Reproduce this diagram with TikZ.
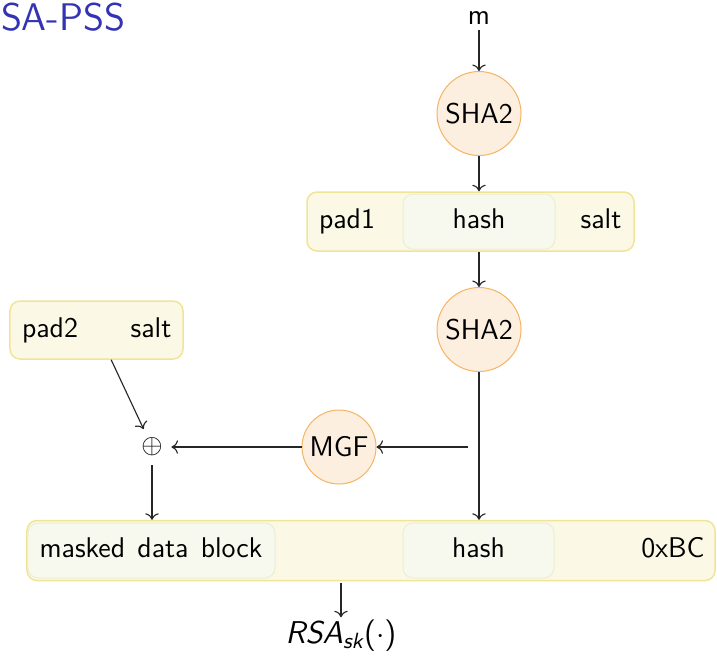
\documentclass[tikz,border=0pt]{standalone}
\usepackage{fontspec}
\usetikzlibrary{calc,arrows.meta}
\definecolor{titleblue}{RGB}{51,51,179}
\definecolor{circfill}{RGB}{252,239,223}
\definecolor{circdraw}{RGB}{245,180,100}
\definecolor{boxfill}{RGB}{251,249,230}
\definecolor{boxdraw}{RGB}{240,228,150}
\definecolor{innerfill}{RGB}{247,248,238}
\definecolor{innerdraw}{RGB}{236,238,210}
\tikzset{
  hashcirc/.style={circle, draw=circdraw, fill=circfill, inner sep=0pt, minimum size=33.6pt},
  outerbox/.style={rectangle, rounded corners=4pt, draw=boxdraw, fill=boxfill, line width=0.6pt},
  innerbox/.style={rectangle, rounded corners=4pt, draw=innerdraw, fill=innerfill, minimum height=22pt},
  lbl/.style={inner sep=1pt, text height=1.6ex, text depth=0.3ex},
  conn/.style={-{To[length=2.6pt,width=5.4pt]}, draw=black!85, line width=0.45pt}
}
\begin{document}
\begin{tikzpicture}[x=0.4pt,y=-0.4pt,font=\sffamily\fontsize{11.4}{13.5}\selectfont]
\useasboundingbox (0,0) rectangle (717,656);
% title
\node[anchor=base west, inner sep=0pt, text=titleblue, font=\sffamily\fontsize{15.4}{18}\selectfont] (title) at (0.5,30) {SA-PSS};
% top chain
\node[lbl] (m) at (479,17) {m};
\node[hashcirc] (sha1) at (479,113.5) {SHA2};
\node[outerbox, minimum width=130.8pt, minimum height=23.6pt] (box1) at (470.5,221.5) {};
\node[innerbox, minimum width=60.8pt] (h1) at (479,221.5) {};
\node[lbl] (pad1) at (347,221.5) {pad1};
\node[lbl] (hash1) at (479,221.5) {hash};
\node[lbl] (salt1) at (601,221.5) {salt};
\node[hashcirc] (sha2) at (479,329.5) {SHA2};
% left
\node[outerbox, minimum width=69.2pt, minimum height=23.2pt] (box2) at (96.5,330) {};
\node[lbl] (pad2) at (50,330) {pad2};
\node[lbl] (salt2) at (151,330) {salt};
\node[hashcirc, minimum size=29.6pt] (mgf) at (339,447) {MGF};
\node (xor) at (152,447) {$\oplus$};
\coordinate (tap) at (468,447);
% bottom
\node[outerbox, minimum width=275.2pt, minimum height=24pt] (main) at (371,550.5) {};
\node[innerbox, minimum width=98.8pt] (mdb) at (151.5,550.5) {};
\node[innerbox, minimum width=60.4pt] (h2) at (478.5,550.5) {};
\node[lbl] (mdbt) at (151,550.5) {masked\hspace{1.2pt} data\hspace{1.2pt} block};
\node[lbl] (hash2) at (478.5,550.5) {hash};
\node[lbl] (bc) at (673,550.5) {0xBC};
\node[inner sep=1pt, font=\sffamily\fontsize{12.6}{15}\selectfont] (rsa) at (341,636) {{\itshape RSA}\textsubscript{\itshape sk}($\cdot$)};
% connectors
\draw[conn] (m) -- (sha1);
\draw[conn] (sha1.south) -- (sha1.south |- box1.north);
\draw[conn] (sha1.south |- box1.south) -- (sha2.north);
\draw[conn] (sha2.south) -- (sha2.south |- main.north);
\draw[conn] (tap) -- (mgf);
\draw[conn] (mgf) -- (xor);
\draw[conn] ($(box2.south west)!0.584!(box2.south east)$) -- (xor);
\draw[conn] (xor) -- (xor |- main.north);
\draw[conn] (main.south -| rsa) ++(0,2) -- (rsa);
\end{tikzpicture}
\end{document}
